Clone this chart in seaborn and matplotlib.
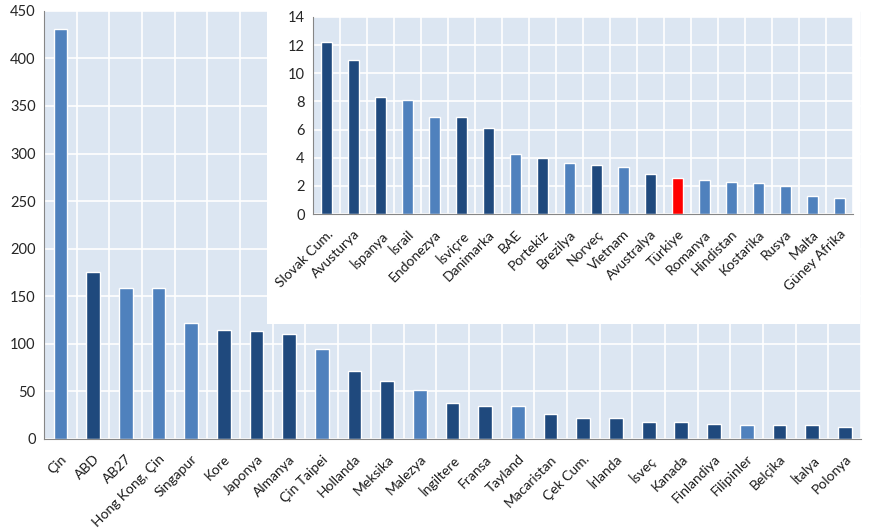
import numpy as np
import matplotlib
matplotlib.use("Agg")
import matplotlib.pyplot as plt
import seaborn as sns

# main chart data
ana_ulkeler = ["Çin", "ABD", "AB27", "Hong Kong, Çin", "Singapur", "Kore", "Japonya",
               "Almanya", "Çin Taipei", "Hollanda", "Meksika", "Malezya", "İngiltere",
               "Fransa", "Tayland", "Macaristan", "Çek Cum.", "İrlanda", "İsveç", "Kanada",
               "Finlandiya", "Filipinler", "Belçika", "İtalya", "Polonya"]
ana_degerler = [431, 175, 159, 159, 122, 115, 114, 110, 95, 71, 61, 51, 38,
                35, 35, 26, 22, 22, 18, 18, 16, 15, 15, 15, 12.6]
ana_grup = ["a", "o", "a", "a", "a", "o", "o", "o", "a", "o", "o", "a", "o",
            "o", "a", "o", "o", "o", "o", "o", "o", "a", "o", "o", "o"]

# inset data
ek_ulkeler = ["Slovak Cum.", "Avusturya", "İspanya", "İsrail", "Endonezya", "İsviçre",
              "Danimarka", "BAE", "Portekiz", "Brezilya", "Norveç", "Vietnam",
              "Avustralya", "Türkiye", "Romanya", "Hindistan", "Kostarika", "Rusya",
              "Malta", "Güney Afrika"]
ek_degerler = [12.2, 10.95, 8.3, 8.1, 6.87, 6.87, 6.1, 4.25, 4.02, 3.6, 3.52, 3.38,
               2.88, 2.6, 2.45, 2.3, 2.24, 2.03, 1.32, 1.17]
ek_grup = ["o", "o", "o", "a", "a", "o", "o", "a", "o", "a", "o", "a",
           "o", "t", "a", "a", "a", "a", "a", "a"]

renkler = {"a": "#4F81BD", "o": "#1F497D", "t": "#FF0000"}

sns.set_style("white")
plt.rcParams["font.family"] = ["Lato", "DejaVu Sans"]

fig = plt.figure(figsize=(8.72, 5.3), dpi=100)


def ciz(ax, kategoriler, degerler, grup, yust, yadim):
    pal = [renkler[g] for g in grup]
    sns.barplot(x=kategoriler, y=degerler, hue=kategoriler, palette=pal,
                legend=False, width=0.42, ax=ax, saturation=1)
    n = len(kategoriler)
    ax.set_facecolor("#DCE6F2")
    ax.set_xlim(-0.5, n - 0.5)
    ax.set_ylim(0, yust)
    ax.set_yticks(np.arange(0, yust + 0.01, yadim))
    ax.set_xticks(np.arange(n))
    ax.set_xticks(np.arange(n + 1) - 0.5, minor=True)
    ax.set_xticklabels(kategoriler, rotation=45, ha="right", rotation_mode="anchor",
                       fontsize=10, color="#1a1a1a")
    ax.tick_params(axis="x", which="major", length=0, pad=10)
    ax.tick_params(axis="x", which="minor", length=4, color="#868686")
    ax.tick_params(axis="y", length=4, color="#868686", labelsize=10.5, pad=2)
    ax.grid(True, axis="y", color="white", linewidth=1.2)
    ax.grid(True, axis="x", which="minor", color="white", linewidth=1.2)
    ax.set_axisbelow(True)
    for s in ["top", "right"]:
        ax.spines[s].set_visible(False)
    for s in ["left", "bottom"]:
        ax.spines[s].set_color("#868686")
    ax.set_xlabel("")
    ax.set_ylabel("")


ax = fig.add_axes([0.0505, 0.1717, 0.937, 0.808])
ciz(ax, ana_ulkeler, ana_degerler, ana_grup, 450, 50)

# white box behind the inset
bg = fig.add_axes([0.306, 0.389, 0.68, 0.611])
bg.set_facecolor("white")
bg.set_xticks([])
bg.set_yticks([])
for s in bg.spines.values():
    s.set_visible(False)

ax2 = fig.add_axes([0.359, 0.596, 0.619, 0.372])
ciz(ax2, ek_ulkeler, ek_degerler, ek_grup, 14, 2)

fig.savefig("out.png", dpi=100)
